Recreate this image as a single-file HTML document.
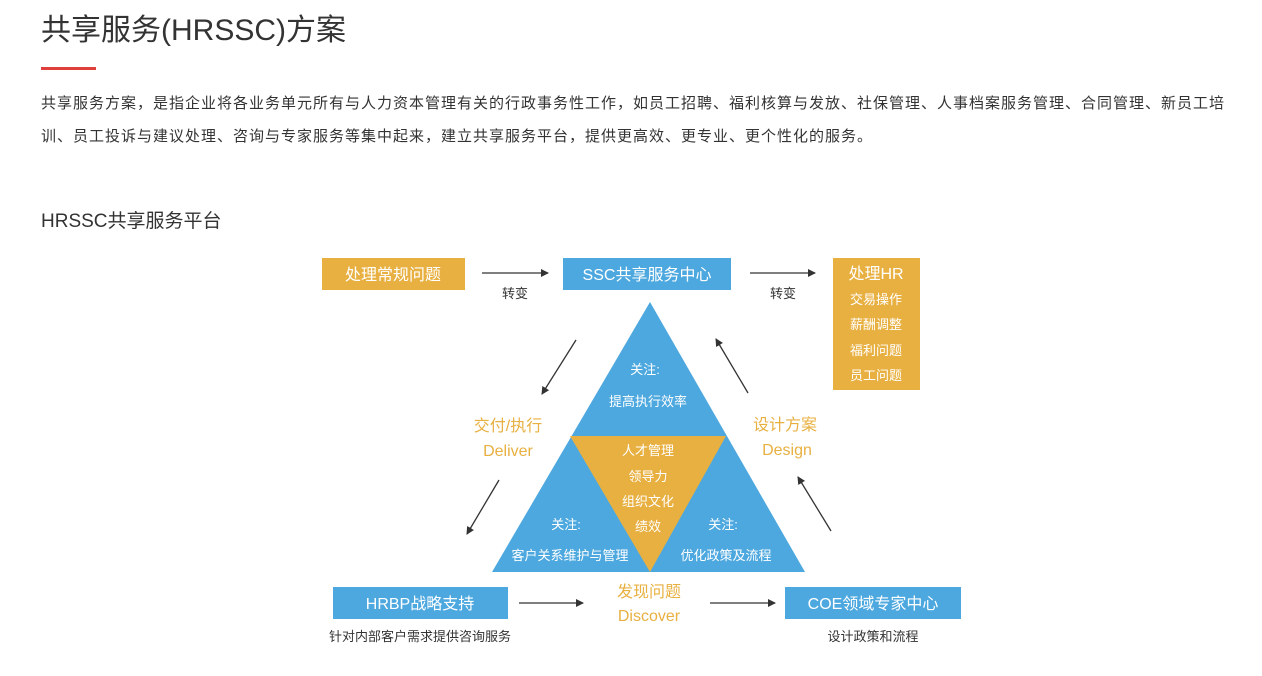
<!DOCTYPE html>
<html><head><meta charset="utf-8"><style>
body{margin:0;width:1262px;height:676px;background:#fff;position:relative;overflow:hidden;font-family:"Liberation Sans","Noto Sans CJK SC",sans-serif;color:#333}
.t{position:absolute;left:41px;top:11px;font-size:30px;line-height:40px;color:#333;margin:0;font-weight:normal}
.bar{position:absolute;left:41px;top:67px;width:55px;height:3px;background:#e0403c}
.p{position:absolute;left:41px;top:87px;width:1220px;font-size:15px;line-height:33px;color:#333;letter-spacing:1px;white-space:nowrap}
.h{position:absolute;left:41px;top:208px;font-size:19px;line-height:28px;color:#333}
svg{position:absolute;left:0;top:0}
</style></head><body>
<h1 class="t">共享服务(HRSSC)方案</h1>
<div class="bar"></div>
<div class="p">共享服务方案，是指企业将各业务单元所有与人力资本管理有关的行政事务性工作，如员工招聘、福利核算与发放、社保管理、人事档案服务管理、合同管理、新员工培<br>训、员工投诉与建议处理、咨询与专家服务等集中起来，建立共享服务平台，提供更高效、更专业、更个性化的服务。</div>
<div class="h">HRSSC共享服务平台</div>
<svg width="1262" height="676" font-family="Liberation Sans,Noto Sans CJK SC,sans-serif">
<defs><marker id="a" markerWidth="8" markerHeight="8" refX="7" refY="4" orient="auto" markerUnits="userSpaceOnUse"><path d="M0,0 L8,4 L0,8 Z" fill="#333"/></marker></defs>
<rect x="322" y="258" width="143" height="32" fill="#e8b041"/>
<rect x="563" y="258" width="168" height="32" fill="#4da8df"/>
<rect x="833" y="258" width="87" height="132" fill="#e8b041"/>
<rect x="333" y="587" width="175" height="32" fill="#4da8df"/>
<rect x="785" y="587" width="176" height="32" fill="#4da8df"/>
<polygon points="650,302 805,572 492,572" fill="#4da8df"/>
<polygon points="570,436 726,436 650,572" fill="#e8b041"/>
<g fill="#fff" font-size="16" text-anchor="middle">
<text x="393" y="280">处理常规问题</text>
<text x="647" y="280">SSC共享服务中心</text>
<text x="876" y="279">处理HR</text>
<text x="420" y="609">HRBP战略支持</text>
<text x="873" y="609">COE领域专家中心</text>
</g>
<g fill="#fff" font-size="13" text-anchor="middle">
<text x="876" y="304">交易操作</text><text x="876" y="329">薪酬调整</text><text x="876" y="355">福利问题</text><text x="876" y="380">员工问题</text>
<text x="645" y="374">关注:</text><text x="648" y="406">提高执行效率</text>
<text x="648" y="455">人才管理</text><text x="648" y="481">领导力</text><text x="648" y="506">组织文化</text><text x="648" y="531">绩效</text>
<text x="566" y="529">关注:</text><text x="570" y="560">客户关系维护与管理</text>
<text x="723" y="529">关注:</text><text x="726" y="560">优化政策及流程</text>
</g>
<g fill="#333" font-size="13" text-anchor="middle">
<text x="515" y="298">转变</text><text x="783" y="298">转变</text>
<text x="420" y="641">针对内部客户需求提供咨询服务</text>
<text x="873" y="641">设计政策和流程</text>
</g>
<g fill="#e8b041" font-size="16" text-anchor="middle">
<text x="508" y="431">交付/执行</text><text x="508" y="456">Deliver</text>
<text x="785" y="430">设计方案</text><text x="787" y="455">Design</text>
<text x="649" y="597">发现问题</text><text x="649" y="621">Discover</text>
</g>
<g stroke="#333" stroke-width="1.3" marker-end="url(#a)">
<line x1="482" y1="273" x2="548" y2="273"/>
<line x1="750" y1="273" x2="815" y2="273"/>
<line x1="576" y1="340" x2="542" y2="394"/>
<line x1="499" y1="480" x2="467" y2="534"/>
<line x1="748" y1="393" x2="716" y2="339"/>
<line x1="831" y1="531" x2="798" y2="477"/>
<line x1="519" y1="603" x2="583" y2="603"/>
<line x1="710" y1="603" x2="775" y2="603"/>
</g>
</svg>
</body></html>
